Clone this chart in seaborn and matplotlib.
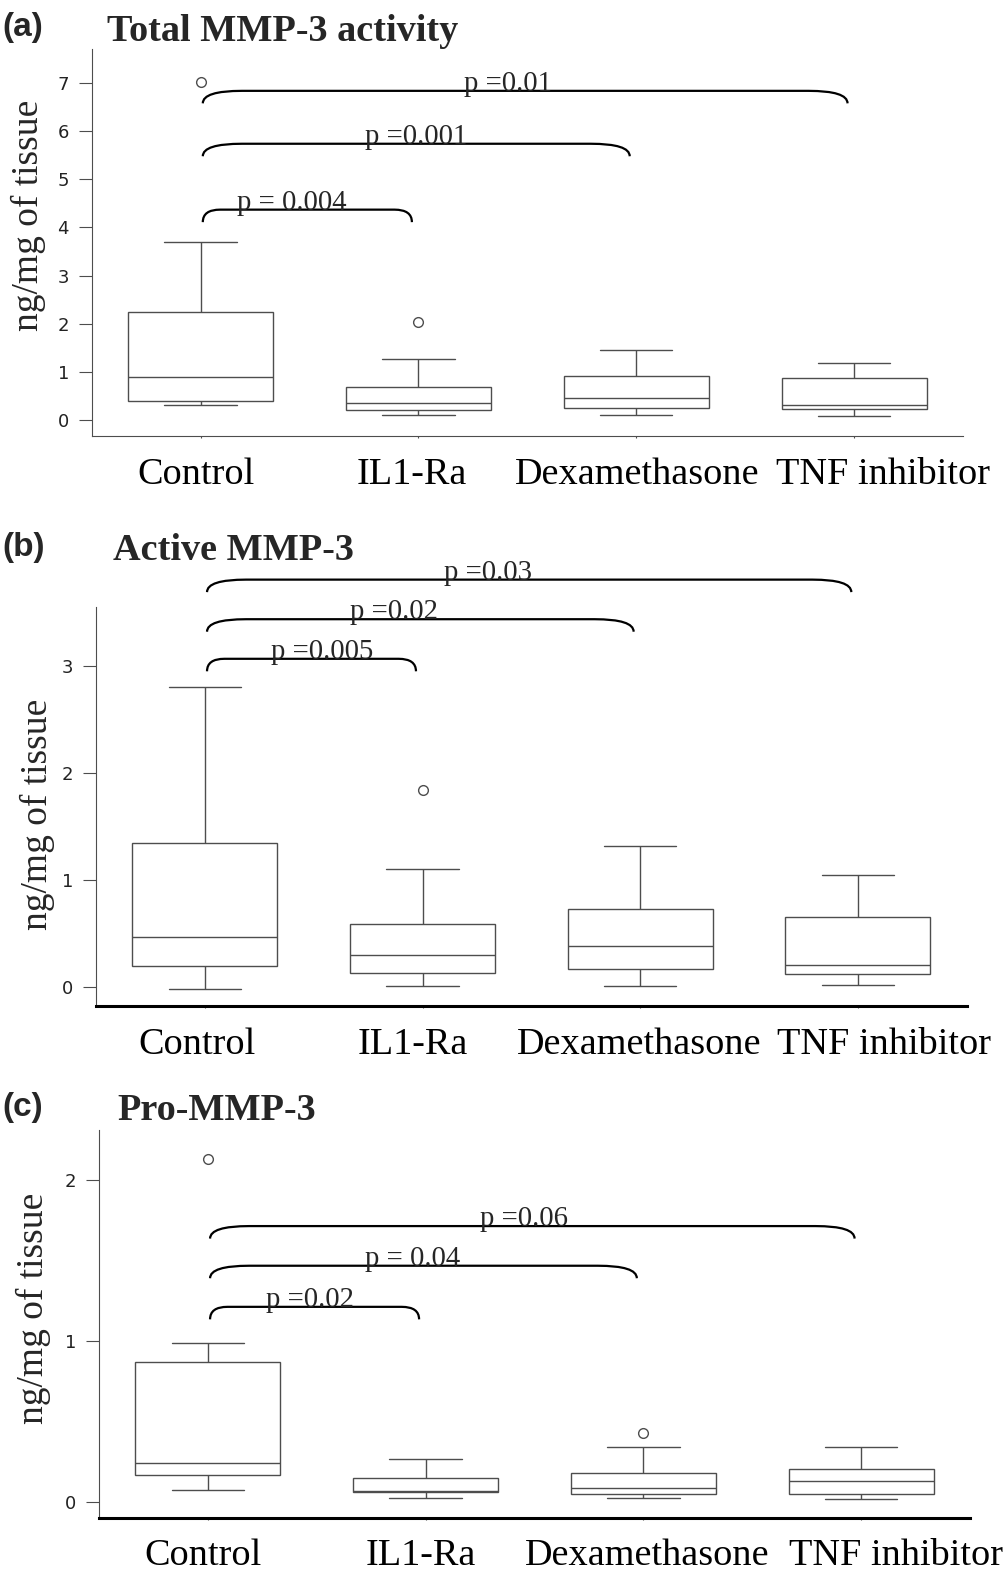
import numpy as np
import pandas as pd
import matplotlib
matplotlib.use('Agg')
import matplotlib.pyplot as plt
import matplotlib.transforms as mtransforms
from matplotlib.path import Path
from matplotlib.patches import PathPatch
import seaborn as sns

# ==================== DATA ====================
groups = ['Control', 'IL1-Ra', 'Dexamethasone', 'TNF inhibitor']

# five-number summaries: [whisker low, Q1, median, Q3, whisker high]
total_control = [0.30, 0.40, 0.90, 2.25, 3.69]
total_il1ra = [0.10, 0.21, 0.35, 0.69, 1.26]
total_dexa = [0.10, 0.25, 0.45, 0.91, 1.45]
total_tnf = [0.08, 0.22, 0.31, 0.88, 1.19]
total_outlier_groups = ['Control', 'IL1-Ra']
total_outlier_values = [7.03, 2.03]

active_control = [-0.02, 0.196, 0.47, 1.35, 2.81]
active_il1ra = [0.015, 0.135, 0.30, 0.59, 1.11]
active_dexa = [0.015, 0.17, 0.39, 0.73, 1.32]
active_tnf = [0.02, 0.125, 0.206, 0.66, 1.05]
active_outlier_groups = ['IL1-Ra']
active_outlier_values = [1.84]

pro_control = [0.076, 0.169, 0.246, 0.868, 0.986]
pro_il1ra = [0.025, 0.062, 0.070, 0.153, 0.269]
pro_dexa = [0.027, 0.050, 0.089, 0.182, 0.343]
pro_tnf = [0.022, 0.050, 0.132, 0.207, 0.345]
pro_outlier_groups = ['Control', 'Dexamethasone']
pro_outlier_values = [2.13, 0.43]

# comparisons against Control: target group, bracket height, p-value label
total_targets = ['IL1-Ra', 'Dexamethasone', 'TNF inhibitor']
total_heights = [4.37, 5.74, 6.84]
total_pvals = ['p = 0.004', 'p =0.001', 'p =0.01']

active_targets = ['IL1-Ra', 'Dexamethasone', 'TNF inhibitor']
active_heights = [3.07, 3.44, 3.81]
active_pvals = ['p =0.005', 'p =0.02', 'p =0.03']

pro_targets = ['IL1-Ra', 'Dexamethasone', 'TNF inhibitor']
pro_heights = [1.213, 1.468, 1.714]
pro_pvals = ['p =0.02', 'p = 0.04', 'p =0.06']

# ==================== STYLE ====================
sns.set_theme(style='white')
plt.rcParams['font.family'] = 'serif'
plt.rcParams['font.serif'] = ['Liberation Serif', 'DejaVu Serif']

W, H = 1004, 1583
fig = plt.figure(figsize=(W / 100, H / 100), dpi=100)
GRAY = '#4d4d4d'


def add_axes(left, right, top, bottom):
    return fig.add_axes([left / W, 1 - bottom / H, (right - left) / W, (bottom - top) / H])


def draw_bracket(ax, x0, x1, top, drop, dx):
    verts = [(x0, top - drop), (x0, top), (x0 + dx, top),
             (x1 - dx, top), (x1, top), (x1, top - drop)]
    codes = [Path.MOVETO, Path.CURVE3, Path.CURVE3,
             Path.LINETO, Path.CURVE3, Path.CURVE3]
    ax.add_patch(PathPatch(Path(verts, codes), fill=False, lw=1.6,
                           edgecolor='black', clip_on=False))


def panel(ax, boxes, out_groups, out_values, ylim, yticks, targets, heights,
          pvals, text_x, bottom_lw, bottom_color, xpad, label_shift):
    df = pd.DataFrame({
        'group': np.repeat(groups, 5),
        'value': np.concatenate(boxes),
    })
    sns.boxplot(data=df, x='group', y='value', order=groups, whis=(0, 100),
                width=0.665, color='white', linecolor=GRAY, linewidth=1.0,
                fliersize=0, ax=ax)
    sns.stripplot(x=out_groups, y=out_values, order=groups, jitter=False,
                  color='white', edgecolor=GRAY, linewidth=1, size=7, ax=ax)

    ax.set_xlim(-0.5, 3.5)
    ax.set_ylim(*ylim)
    ax.set_xlabel('')
    ax.set_ylabel('')

    ax.set_yticks(yticks)
    ax.set_yticklabels([str(t) for t in yticks], fontfamily='DejaVu Sans',
                       fontsize=13, color='#222222')
    ax.tick_params(axis='y', left=True, length=9.4, width=0.8, color=GRAY, pad=7)
    ax.set_xticks(range(len(groups)))
    ax.set_xticklabels(groups, fontsize=27.5, color='black')
    ax.tick_params(axis='x', bottom=True, length=1.5, width=0.8, color=GRAY, pad=xpad)
    for lab, off in zip(ax.get_xticklabels(), label_shift):
        lab.set_transform(lab.get_transform() +
                          mtransforms.ScaledTranslation(off / 100, 0, fig.dpi_scale_trans))

    for s in ['top', 'right']:
        ax.spines[s].set_visible(False)
    ax.spines['left'].set_color(GRAY)
    ax.spines['left'].set_linewidth(0.8)
    ax.spines['bottom'].set_color(bottom_color)
    ax.spines['bottom'].set_linewidth(bottom_lw)

    # significance brackets
    bbox = ax.get_position()
    px_per_unit = bbox.height * H / (ylim[1] - ylim[0])
    drop = 12.5 / px_per_unit
    for tgt, h, p, tx in zip(targets, heights, pvals, text_x):
        x1 = groups.index(tgt) - 0.03
        dx = 0.08 if groups.index(tgt) == 1 else 0.18
        draw_bracket(ax, 0.01, x1, h, drop, dx)
        ax.text(tx, h, p, ha='center', va='baseline', fontsize=20.7, clip_on=False)


# ==================== PANEL (a) ====================
ax_a = add_axes(91.7, 963, 49, 435.7)
panel(ax_a, [total_control, total_il1ra, total_dexa, total_tnf],
      total_outlier_groups, total_outlier_values, (-0.33, 7.71), list(range(8)),
      total_targets, total_heights, total_pvals, [0.42, 0.99, 1.41],
      0.8, GRAY, 14.5, [-5, -7, 1, 29])

# ==================== PANEL (b) ====================
ax_b = add_axes(96, 966.7, 606.8, 1006.2)
panel(ax_b, [active_control, active_il1ra, active_dexa, active_tnf],
      active_outlier_groups, active_outlier_values, (-0.177, 3.556), [0, 1, 2, 3],
      active_targets, active_heights, active_pvals, [0.54, 0.87, 1.30],
      2.2, 'black', 13.7, [-7.5, -10, -1, 26])

# ==================== PANEL (c) ====================
ax_c = add_axes(99, 970, 1130, 1517.7)
panel(ax_c, [pro_control, pro_il1ra, pro_dexa, pro_tnf],
      pro_outlier_groups, pro_outlier_values, (-0.095, 2.31), [0, 1, 2],
      pro_targets, pro_heights, pro_pvals, [0.47, 0.94, 1.45],
      2.2, 'black', 13.4, [-5, -5, 4, 35])

# ==================== LABELS ====================
for letter, top in [('(a)', 12), ('(b)', 532), ('(c)', 1092)]:
    fig.text(2 / W, 1 - top / H, letter, fontfamily='Liberation Sans',
             fontweight='bold', fontsize=24, va='top', ha='left')

for title, x, base in [('Total MMP-3 activity', 107, 40.7),
                       ('Active MMP-3', 113, 559.6),
                       ('Pro-MMP-3', 117, 1120)]:
    fig.text(x / W, 1 - base / H, title, fontweight='bold', fontsize=27.5,
             va='baseline', ha='left')

for x, y in [(28, 215), (37, 814), (33.5, 1308)]:
    fig.text(x / W, 1 - y / H, 'ng/mg of tissue', rotation=90, fontsize=27,
             ha='center', va='center')

fig.savefig('out.png', dpi=100, facecolor='white')
